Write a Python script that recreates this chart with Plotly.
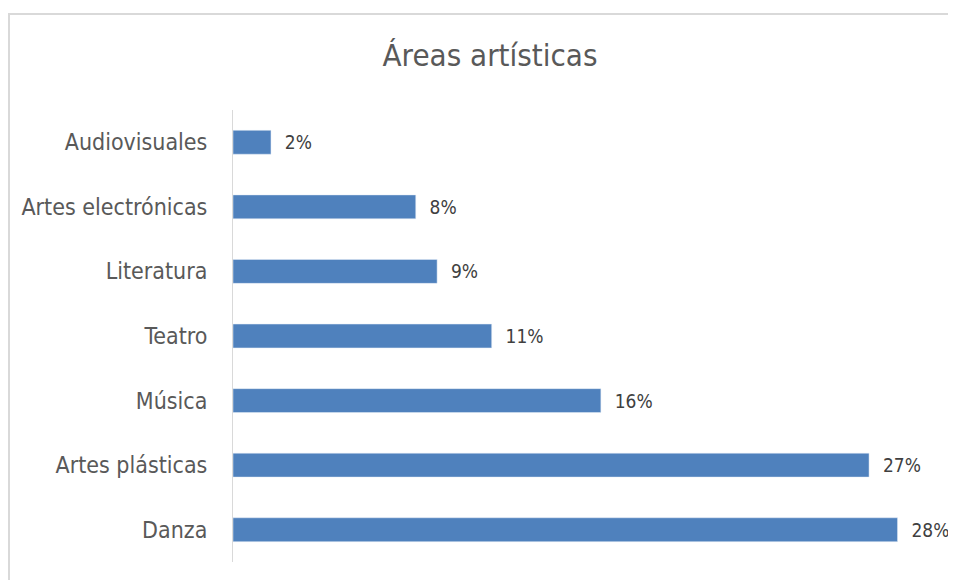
import plotly.graph_objects as go

# categories top to bottom
areas = ["Audiovisuales", "Artes electrónicas", "Literatura", "Teatro",
         "Música", "Artes plásticas", "Danza"]
shares = [0.016, 0.077, 0.086, 0.109, 0.155, 0.268, 0.280]

FONT = "Liberation Sans Narrow, DejaVu Sans Condensed, Liberation Sans, sans-serif"

# the page body has an 8px margin, so the figure sits 8px right/down
fig = go.Figure(
    go.Bar(
        x=shares,
        y=areas,
        orientation="h",
        marker_color="#4f81bd",
        texttemplate="\u00a0\u00a0%{x:.0%}",
        textposition="outside",
        textfont=dict(size=19, color="#404040", family=FONT),
        cliponaxis=False,
    )
)

fig.update_layout(
    width=956,
    height=580,
    paper_bgcolor="white",
    plot_bgcolor="white",
    margin=dict(l=225, r=19, t=102, b=26),
    bargap=0.63,
    showlegend=False,
    title=dict(
        text="Áreas artísticas",
        x=482 / 956,
        xanchor="center",
        y=1 - 47 / 580,
        yanchor="middle",
        font=dict(size=31, color="#595959", family=FONT),
    ),
    font=dict(family=FONT, color="#595959"),
)
fig.update_xaxes(range=[0, 0.30], visible=False)
fig.update_yaxes(
    autorange="reversed",
    showline=True,
    linecolor="#d9d9d9",
    linewidth=1,
    ticks="",
    ticklabelstandoff=20,
    tickfont=dict(size=23, color="#595959", family=FONT),
    showgrid=False,
)

# outer chart frame, like the spreadsheet chart border
fig.add_shape(
    type="rect", xref="paper", yref="paper",
    x0=(1 - 225) / 712, x1=1.2, y0=-0.2, y1=1 + (102 - 6) / 452,
    line=dict(color="#d9d9d9", width=2), layer="below",
)

fig.write_html("out.html")
